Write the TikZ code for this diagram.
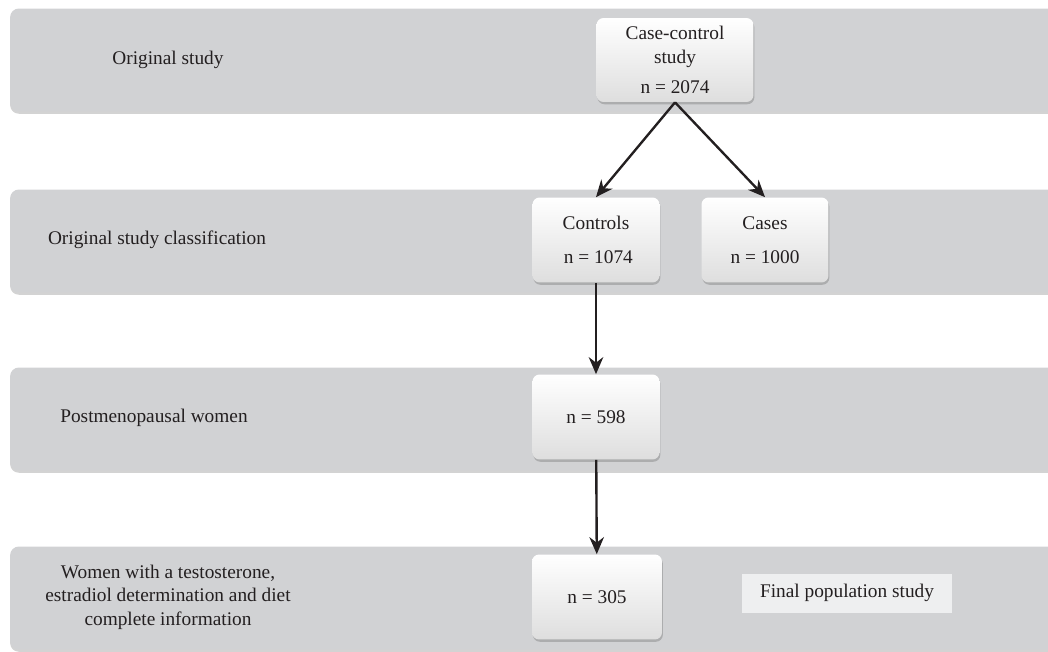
\documentclass[tikz,border=0pt]{standalone}
\usepackage{fontspec}
\setmainfont{Liberation Serif}
\usetikzlibrary{arrows.meta,positioning,shadows}
\definecolor{bandgray}{RGB}{209,210,212}
\definecolor{labelgray}{RGB}{238,239,240}
\definecolor{inkgray}{RGB}{35,31,32}

\begin{document}
\begin{tikzpicture}[
  x=0.02cm, y=-0.02cm,
  font=\fontsize{11}{13.4}\selectfont, text=inkgray,
  band/.style={fill=bandgray, rounded corners=5pt, minimum width=21.4cm, minimum height=2.06cm,
    drop shadow={shadow xshift=0pt, shadow yshift=-1.3pt, opacity=0.35}},
  tag/.style={align=center},
  box/.style={rounded corners=4pt, top color=white, bottom color=black!13, minimum width=2.54cm,
    minimum height=1.7cm, align=center, drop shadow={shadow xshift=0.5pt, shadow yshift=-1.3pt, opacity=0.45}},
  final/.style={fill=labelgray, minimum width=4.22cm, minimum height=0.78cm},
  arrow/.style={-{Stealth[length=3.4mm, width=2.9mm]}, line width=1.35pt, draw=inkgray}
]
\useasboundingbox (0,0) rectangle (1048,652);
\clip (0,0) rectangle (1048,652);
% rows
\node[band] (row1) at (545,60) {};
\node[band] (row2) at (545,241) {};
\node[band] (row3) at (545,419) {};
\node[band] (row4) at (545,598) {};
\node[tag] (lab1) at (168,60) {Original study};
\node[tag] (lab2) at (157,240) {Original study classification};
\node[tag] (lab3) at (154,418) {Postmenopausal women};
\node[tag] (lab4) at (168,597) {Women with a testosterone,\\estradiol determination and diet\\complete information};
% counts
\node[box, minimum width=3.14cm, minimum height=1.68cm] (study) at (675,60) {Case-control\\study\\[3.5pt]n = 2074};
\node[box] (controls) at (596,240) {Controls\\[6pt]\ n = 1074};
\node[box] (cases) at (765,240) {Cases\\[6pt]n = 1000};
\node[box] (postmeno) at (596,417) {n = 598};
\node[box, minimum width=2.6cm] (women) at (597,597) {n = 305};
\node[final] (result) at (847,593) {Final population study};
\draw[arrow] (study.south) -- (controls.north);
\draw[arrow] (study.south) -- (cases.north);
\draw[arrow] (controls) -- (postmeno);
\draw[arrow] (postmeno) -- (women);
\end{tikzpicture}
\end{document}
